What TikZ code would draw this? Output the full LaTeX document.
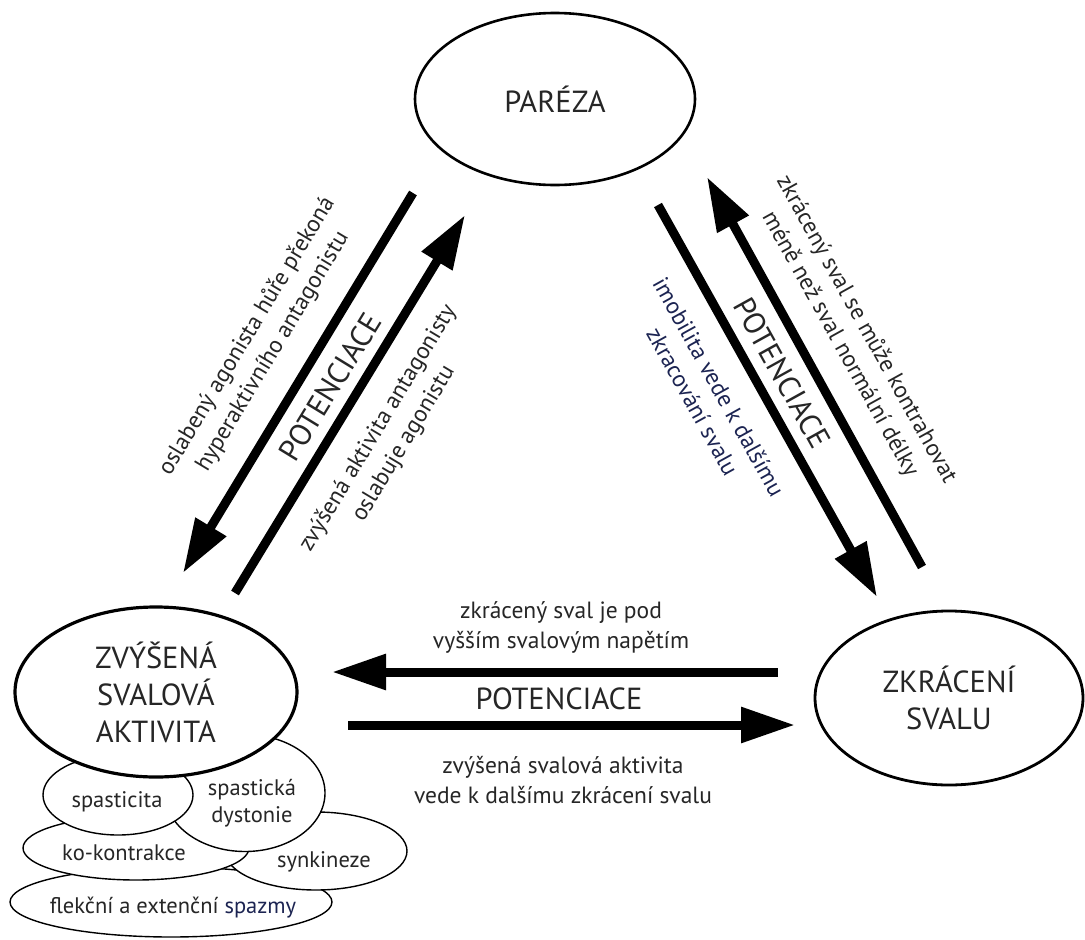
\documentclass[tikz,border=0pt]{standalone}
\usepackage{fontspec}
\setmainfont{PT Sans}
\usetikzlibrary{shapes.geometric,arrows.meta}
\definecolor{txt}{HTML}{262626}
\definecolor{navy}{HTML}{1C2452}
\begin{document}
\begin{tikzpicture}[x=1pt,y=-1pt,
  big/.style={ellipse,draw=black,fill=white,text=txt,align=center,
    font=\fontsize{30.5}{37}\selectfont,inner sep=0pt},
  small/.style={ellipse,draw=black,fill=white,line width=1.4pt,inner sep=0pt},
  stxt/.style={text=txt,align=center,font=\fontsize{22.5}{27}\selectfont,inner sep=0pt},
  lbl/.style={text=txt,align=center,font=\fontsize{23.5}{30}\selectfont,inner sep=0pt},
  capl/.style={text=txt,font=\fontsize{30.5}{34}\selectfont,inner sep=0pt},
  arr/.style={line width=9pt,-{Triangle[length=54pt,width=34pt]}}]
\useasboundingbox[fill=white] (0,0) rectangle (1085,940);

% small ellipses (back to front)
\node[small,minimum width=322pt,minimum height=70pt] (flek) at (171,902) {};
\node[small,minimum width=182pt,minimum height=78pt] (synk) at (316,851) {};
\node[small,minimum width=226pt,minimum height=64pt] (kokon) at (136,848) {};
\node[small,minimum width=160pt,minimum height=117pt] (spdys) at (245,793) {};
\node[small,minimum width=150pt,minimum height=80pt] (spast) at (118,795) {};

% main ellipses
\node[big,line width=3.2pt,minimum width=282pt,minimum height=170pt] (zvys) at (156,692)
  {ZVÝŠENÁ\\SVALOVÁ\\AKTIVITA};
\node[big,line width=2.6pt,minimum width=280pt,minimum height=172pt] (pareza) at (555,99)
  {PARÉZA};
\node[big,line width=2.8pt,minimum width=268pt,minimum height=174pt] (zkrac) at (949,698)
  {ZKRÁCENÍ\\SVALU};

% small ellipse texts
\node[stxt,anchor=base] (tflek) at (173,913) {flekční a extenční {\color{navy}spazmy}};
\node[stxt,anchor=base] (tsynk) at (324,867) {synkineze};
\node[stxt,anchor=base] (tkokon) at (124,860) {ko-kontrakce};
\node[stxt] (tspdys) at (252,803) {spastická\\dystonie};
\node[stxt,anchor=base] (tspast) at (117,807) {spasticita};

% arrow end points
\coordinate (l1s) at (413,193); \coordinate (l1e) at (183,573);
\coordinate (l2s) at (235,593); \coordinate (l2e) at (465,215);
\coordinate (r1s) at (658,205); \coordinate (r1e) at (877,597);
\coordinate (r2s) at (922,567); \coordinate (r2e) at (707,177);
\coordinate (h1s) at (778,672); \coordinate (h1e) at (332,672);
\coordinate (h2s) at (348,725); \coordinate (h2e) at (795,725);

\draw[arr] (l1s) -- (l1e);
\draw[arr] (l2s) -- (l2e);
\draw[arr] (r1s) -- (r1e);
\draw[arr] (r2s) -- (r2e);
\draw[arr] (h1s) -- (h1e);
\draw[arr] (h2s) -- (h2e);

% labels left
\node[lbl,rotate=59] (ll1) at (260,344) {oslabený agonista hůře překoná\\hyperaktivního antagonistu};
\node[capl,rotate=58.5] (lpot) at (330,387) {POTENCIACE};
\node[lbl,rotate=59] (ll2) at (391,436) {zvýšená aktivita antagonisty\\oslabuje agonistu};

% labels right
\node[lbl,rotate=-61] (rl1) at (853,337) {zkrácený sval se může kontrahovat\\méně než sval normální délky};
\node[capl,rotate=-61] (rpot) at (782,373) {POTENCIACE};
\node[lbl,rotate=-61,text=navy] (rl2) at (706,394) {imobilita vede k dalšímu\\zkracování svalu};

% labels horizontal
\node[lbl] (hl1) at (561,627) {zkrácený sval je pod\\vyšším svalovým napětím};
\node[capl,anchor=base] (hpot) at (559,709) {POTENCIACE};
\node[lbl] (hl2) at (563,780) {zvýšená svalová aktivita\\vede k dalšímu zkrácení svalu};
\end{tikzpicture}
\end{document}
